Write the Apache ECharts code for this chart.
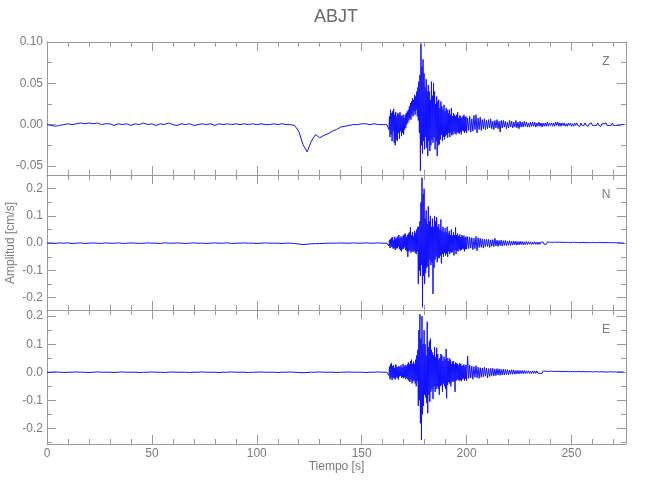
<!DOCTYPE html>
<html>
<head>
<meta charset="utf-8">
<script src="https://cdn.jsdelivr.net/npm/echarts@6/dist/echarts.min.js"></script>
<style>
html,body{margin:0;padding:0;background:#fff;}
#chart{width:650px;height:500px;}
</style>
</head>
<body>
<div id="chart"></div>
<script>
// ---------------- data ----------------
const stationName = 'ABJT';
const componentNames = ['Z', 'N', 'E'];
const xAxisTitle = 'Tiempo [s]';
const yAxisTitle = 'Amplitud [cm/s]';

// sampling of the traces (seconds)
const quietStart = 0,    quietStep = 2;     // 0 .. 160 s
const strongStart = 162, strongStep = 0.25; // 162 .. 199.75 s
const codaStart = 200,   codaStep = 0.5;    // 200 .. 275 s

const xRange = [0, 276];
const xTickStep = 50;

// ---- Z component ----
const zRange = [-0.061, 0.10];
const zTicks = [-0.05, 0.00, 0.05, 0.10];
const zMinorTicks = [-0.05, -0.025, 0, 0.025, 0.05, 0.075, 0.10];
const zQuiet = [
 0.000,-0.001,-0.002,-0.001,0.000,0.001,0.000,0.001,0.002,0.001,
 0.002,0.001,0.002,0.000,0.001,0.001,-0.001,0.001,0.000,0.001,
 -0.001,0.001,0.000,0.002,0.000,0.001,-0.001,0.001,0.000,0.002,
 0.000,-0.001,0.001,0.000,0.001,-0.001,0.000,0.001,0.000,0.001,
 -0.001,0.001,0.000,0.001,0.000,0.001,0.000,0.001,0.000,0.001,
 0.000,0.001,0.000,0.000,0.001,0.000,0.001,0.000,0.000,-0.001,
 -0.008,-0.024,-0.033,-0.020,-0.012,-0.016,-0.013,-0.011,-0.008,-0.006,
 -0.003,-0.002,-0.001,0.000,0.000,0.001,0.001,0.000,0.001,0.000,
 0.000];
const zStrong = [
 0.000,0.001,0.000,-0.002,-0.006,0.010,-0.015,0.018,-0.012,0.014,
 -0.020,0.016,-0.008,0.019,-0.022,0.012,-0.025,0.015,-0.018,0.010,
 -0.020,0.014,-0.010,0.012,-0.017,0.015,-0.008,0.011,-0.014,0.010,
 -0.010,0.012,-0.012,0.008,-0.006,0.012,-0.004,0.014,0.000,0.016,
 0.002,0.018,0.005,0.022,0.008,0.026,0.006,0.028,0.012,0.032,
 0.010,0.030,0.016,0.036,0.012,0.034,0.018,0.040,0.010,0.045,
 0.005,0.052,-0.010,0.060,-0.056,0.098,-0.025,0.070,-0.035,0.079,
 -0.020,0.062,-0.030,0.045,-0.015,0.055,-0.028,0.040,-0.038,0.048,
 -0.020,0.040,-0.032,0.030,-0.025,0.052,-0.018,0.035,-0.022,0.050,
 -0.015,0.040,-0.030,0.025,-0.020,0.034,-0.038,0.028,-0.025,0.030,
 -0.024,0.020,-0.018,0.028,-0.012,0.022,-0.020,0.018,-0.015,0.024,
 -0.018,0.016,-0.014,0.020,-0.012,0.018,-0.016,0.014,-0.010,0.018,
 -0.015,0.012,-0.010,0.020,-0.013,0.010,-0.012,0.014,-0.008,0.012,
 -0.011,0.010,-0.012,0.012,-0.009,0.015,-0.010,0.008,-0.011,0.011,
 -0.009,0.010,-0.012,0.008,-0.007,0.010,-0.008,0.012,-0.010,0.009,
 -0.008,0.010];
const zCoda = [
 -0.010,0.008,-0.007,0.010,
 -0.009,0.007,-0.008,0.011,-0.006,0.012,-0.010,0.008,-0.006,0.009,
 -0.007,0.006,-0.005,0.007,-0.006,0.005,-0.005,0.006,-0.004,0.007,
 -0.005,0.004,-0.006,0.005,-0.004,0.006,-0.005,0.004,-0.009,0.005,
 -0.004,0.005,-0.003,0.004,-0.005,0.003,-0.004,0.005,-0.003,0.004,
 -0.004,0.003,-0.003,0.005,-0.004,0.003,-0.005,0.004,-0.003,0.003,
 -0.003,0.004,-0.002,0.003,-0.003,0.002,-0.003,0.003,-0.002,0.003,
 -0.002,0.003,-0.003,0.002,-0.002,0.003,-0.002,0.002,-0.003,0.002,
 -0.002,0.002,-0.002,0.003,-0.002,0.002,-0.001,0.002,-0.002,0.002,
 -0.002,0.003,-0.001,0.003,-0.002,0.002,-0.002,0.002,-0.001,0.002,
 -0.002,0.001,-0.002,0.002,-0.001,0.002,-0.002,0.001,-0.002,0.002,
 -0.001,0.002,-0.001,0.001,-0.002,0.002,-0.001,0.001,-0.001,0.002,
 -0.001,0.001,-0.002,0.001,-0.001,0.002,-0.001,0.001,-0.001,0.001,
 -0.001,0.002,-0.001,0.001,-0.002,0.001,-0.001,0.001,-0.001,0.002,
 -0.001,0.001,-0.001,0.001,-0.001,0.002,-0.001,0.001,-0.001,0.001,
 -0.001,0.001,-0.001,0.001,0.000,0.001,0.000];

// ---- N component ----
const nRange = [-0.245, 0.25];
const nTicks = [-0.2, -0.1, 0.0, 0.1, 0.2];
const nMinorTicks = [-0.2, -0.15, -0.1, -0.05, 0, 0.05, 0.1, 0.15, 0.2];
const nQuiet = [
 0.000,0.001,-0.001,0.001,0.000,0.001,-0.001,0.000,0.001,-0.001,
 0.000,0.001,0.000,-0.001,0.001,0.000,0.000,0.001,-0.001,0.000,
 0.001,0.000,-0.001,0.000,0.001,0.000,0.000,-0.001,0.001,0.000,
 0.000,0.001,0.000,-0.001,0.000,0.001,0.000,0.000,-0.001,0.000,
 0.001,0.000,0.000,0.001,-0.001,0.000,0.000,0.001,0.000,0.000,
 -0.001,0.000,0.001,0.000,0.000,0.000,-0.001,0.000,0.000,-0.001,
 -0.003,-0.005,-0.004,-0.002,-0.002,-0.001,-0.001,0.000,0.000,0.000,
 0.001,0.000,0.000,0.001,0.000,0.000,0.001,0.000,0.000,0.001,
 0.000];
const nStrong = [
 0.000,0.001,-0.002,0.004,-0.010,0.012,-0.018,0.015,-0.012,0.020,
 -0.015,0.022,-0.020,0.010,-0.018,0.024,-0.025,0.016,-0.020,0.020,
 -0.018,0.025,-0.012,0.030,-0.022,0.018,-0.026,0.025,-0.030,0.020,
 -0.022,0.028,-0.020,0.032,-0.015,0.035,-0.025,0.022,-0.030,0.030,
 -0.050,0.035,-0.030,0.040,-0.025,0.058,-0.035,0.030,-0.028,0.040,
 -0.032,0.025,-0.028,0.045,-0.035,0.038,-0.040,0.050,-0.030,0.060,
 -0.150,0.060,-0.100,0.080,-0.120,0.150,-0.080,0.240,-0.235,0.180,
 -0.120,0.200,-0.150,0.090,-0.110,0.120,-0.090,0.070,-0.085,0.135,
 -0.125,0.080,-0.060,0.100,-0.080,0.060,-0.070,0.090,-0.186,0.060,
 -0.090,0.100,-0.060,0.080,-0.050,0.095,-0.070,0.060,-0.055,0.070,
 -0.055,0.050,-0.045,0.087,-0.074,0.045,-0.040,0.060,-0.050,0.040,
 -0.035,0.055,-0.045,0.040,-0.038,0.060,-0.050,0.035,-0.030,0.045,
 -0.040,0.030,-0.032,0.050,-0.035,0.028,-0.030,0.040,-0.045,0.030,
 -0.025,0.058,-0.040,0.030,-0.028,0.035,-0.030,0.025,-0.022,0.032,
 -0.028,0.022,-0.025,0.030,-0.020,0.025,-0.022,0.028,-0.030,0.020,
 -0.022,0.024];
const nCoda = [
 -0.022,0.024,-0.020,0.022,
 -0.018,0.020,-0.024,0.018,-0.020,0.025,-0.028,0.020,-0.016,0.018,
 -0.015,0.016,-0.018,0.014,-0.013,0.015,-0.012,0.014,-0.016,0.012,
 -0.011,0.013,-0.012,0.018,-0.010,0.011,-0.012,0.010,-0.009,0.011,
 -0.010,0.009,-0.008,0.010,-0.009,0.008,-0.007,0.009,-0.008,0.007,
 -0.007,0.008,-0.006,0.007,-0.007,0.006,-0.006,0.007,-0.005,0.006,
 -0.006,0.005,-0.005,0.006,-0.005,0.005,-0.004,0.005,-0.005,0.004,
 -0.004,0.005,-0.004,0.004,-0.005,0.004,-0.004,0.004,-0.003,0.004,
 -0.004,0.003,-0.004,0.004,-0.003,0.004,-0.003,0.003,-0.004,0.003,
 -0.003,0.004,-0.003,0.003,-0.003,0.004,-0.003,0.003,-0.002,0.003,
 -0.003,0.003,-0.002,0.003,-0.003,0.002,-0.003,0.003,-0.002,0.003,
 -0.002,0.003,-0.002,0.002,-0.003,0.002,-0.002,0.003,-0.002,0.002,
 -0.002,0.002,-0.003,0.002,-0.002,0.002,-0.002,0.003,-0.002,0.002,
 -0.002,0.002,-0.002,0.003,-0.002,0.002,-0.002,0.002,-0.001,0.002,
 -0.002,0.002,-0.001,0.002,-0.002,0.002,-0.001,0.002,-0.002,0.001,
 -0.001,0.002,-0.001,0.001,-0.001,0.001,0.000];

// ---- E component ----
const eRange = [-0.256, 0.222];
const eTicks = [-0.2, -0.1, 0.0, 0.1, 0.2];
const eMinorTicks = [-0.25, -0.2, -0.15, -0.1, -0.05, 0, 0.05, 0.1, 0.15, 0.2];
const eQuiet = [
 0.000,0.000,0.001,0.000,-0.001,0.000,0.000,0.001,0.000,0.000,
 -0.001,0.000,0.001,0.000,0.000,0.000,-0.001,0.000,0.001,0.000,
 0.000,0.000,-0.001,0.000,0.000,0.001,0.000,0.000,-0.001,0.000,
 0.001,0.000,0.000,0.000,-0.001,0.000,0.000,0.001,0.000,0.000,
 0.000,-0.001,0.000,0.000,0.001,0.000,0.000,0.000,-0.001,0.000,
 0.000,0.001,0.000,0.000,0.000,-0.001,0.000,0.000,0.001,0.000,
 -0.001,-0.002,-0.001,0.000,0.000,0.001,0.000,0.000,0.000,-0.001,
 0.000,0.000,0.001,0.000,0.000,0.000,-0.001,0.000,0.000,0.001,
 0.000];
const eStrong = [
 0.000,0.001,-0.002,0.006,-0.012,0.020,-0.025,0.028,-0.018,0.032,
 -0.028,0.022,-0.020,0.025,-0.022,0.015,-0.026,0.028,-0.018,0.020,
 -0.020,0.018,-0.026,0.022,-0.015,0.018,-0.012,0.025,-0.020,0.016,
 -0.018,0.030,-0.022,0.020,-0.018,0.026,-0.025,0.022,-0.020,0.028,
 -0.025,0.035,-0.030,0.028,-0.035,0.040,-0.025,0.045,-0.040,0.030,
 -0.032,0.038,-0.028,0.030,-0.040,0.045,-0.050,0.060,-0.030,0.080,
 -0.120,0.150,-0.100,0.207,-0.182,0.120,-0.242,0.200,-0.150,0.100,
 -0.120,0.150,-0.080,0.100,-0.090,0.060,-0.110,0.180,-0.146,0.090,
 -0.080,0.110,-0.105,0.120,-0.070,0.080,-0.060,0.070,-0.095,0.060,
 -0.050,0.090,-0.070,0.055,-0.060,0.087,-0.050,0.065,-0.060,0.045,
 -0.080,0.050,-0.050,0.065,-0.045,0.060,-0.070,0.040,-0.040,0.055,
 -0.050,0.045,-0.060,0.083,-0.093,0.050,-0.045,0.040,-0.035,0.050,
 -0.040,0.045,-0.050,0.030,-0.035,0.038,-0.030,0.040,-0.035,0.028,
 -0.070,0.035,-0.030,0.032,-0.025,0.030,-0.028,0.025,-0.030,0.032,
 -0.028,0.030,-0.032,0.022,-0.025,0.025,-0.022,0.028,-0.030,0.020,
 -0.024,0.026];
const eCoda = [
 -0.030,0.058,-0.022,0.025,
 -0.020,0.022,-0.025,0.020,-0.018,0.024,-0.020,0.018,-0.022,0.016,
 -0.018,0.015,-0.016,0.018,-0.014,0.015,-0.020,0.013,-0.015,0.014,
 -0.012,0.014,-0.013,0.011,-0.012,0.013,-0.010,0.012,-0.011,0.010,
 -0.010,0.011,-0.009,0.010,-0.008,0.009,-0.009,0.008,-0.007,0.009,
 -0.007,0.008,-0.007,0.006,-0.006,0.007,-0.006,0.006,-0.005,0.006,
 -0.005,0.006,-0.005,0.005,-0.004,0.005,-0.005,0.004,-0.004,0.005,
 -0.004,0.004,-0.004,0.005,-0.003,0.004,-0.004,0.003,-0.004,0.004,
 -0.003,0.004,-0.003,0.003,-0.004,0.003,-0.003,0.004,-0.003,0.003,
 -0.003,0.003,-0.002,0.003,-0.003,0.003,-0.003,0.002,-0.003,0.003,
 -0.002,0.003,-0.002,0.002,-0.003,0.002,-0.002,0.003,-0.002,0.002,
 -0.002,0.002,-0.002,0.003,-0.002,0.002,-0.002,0.002,-0.002,0.002,
 -0.002,0.002,-0.001,0.002,-0.002,0.002,-0.002,0.001,-0.002,0.002,
 -0.001,0.002,-0.002,0.001,-0.001,0.002,-0.001,0.001,-0.002,0.001,
 -0.001,0.001,-0.001,0.002,-0.001,0.001,-0.001,0.001,-0.001,0.001,
 -0.001,0.001,-0.001,0.001,0.000,0.001,0.000];

// ---------------- chart ----------------
const FONT = "'Liberation Sans', Arial, sans-serif";
const AXIS_COLOR = '#9a9a9a';
const TEXT_COLOR = '#7a7a7a';
const TRACE_COLOR = '#1010ff';

function buildTrace(quiet, strong, coda) {
  const pts = [];
  quiet.forEach((v, i) => pts.push([quietStart + i * quietStep, v]));
  strong.forEach((v, i) => pts.push([strongStart + i * strongStep, v]));
  coda.forEach((v, i) => pts.push([codaStart + i * codaStep, v]));
  return pts;
}

const panels = [
  { name: componentNames[0], range: zRange, ticks: zTicks, minor: zMinorTicks, digits: 2, data: buildTrace(zQuiet, zStrong, zCoda) },
  { name: componentNames[1], range: nRange, ticks: nTicks, minor: nMinorTicks, digits: 1, data: buildTrace(nQuiet, nStrong, nCoda) },
  { name: componentNames[2], range: eRange, ticks: eTicks, minor: eMinorTicks, digits: 1, data: buildTrace(eQuiet, eStrong, eCoda) }
];

const gridLeft = 47, gridRight = 24;
const gridTops = [42, 175, 310];
const gridHeights = [133, 135, 134];

const grids = [], xAxes = [], yAxes = [], series = [], graphics = [];

panels.forEach((p, g) => {
  grids.push({ left: gridLeft, right: gridRight, top: gridTops[g], height: gridHeights[g], containLabel: false });
  ['bottom', 'top'].forEach(pos => {
    const isLabelAxis = (g === 2 && pos === 'bottom');
    xAxes.push({
      type: 'value', gridIndex: g, position: pos, min: xRange[0], max: xRange[1], interval: xTickStep,
      axisLine: { show: true, onZero: false, lineStyle: { color: AXIS_COLOR, width: 1 } },
      axisTick: { show: true, inside: true, length: 9, lineStyle: { color: AXIS_COLOR } },
      minorTick: { show: true, splitNumber: 5, length: 5, lineStyle: { color: AXIS_COLOR } },
      axisLabel: { show: isLabelAxis, color: TEXT_COLOR, fontFamily: FONT, fontSize: 12, margin: 4,
                   showMaxLabel: false },
      splitLine: { show: false },
      name: isLabelAxis ? xAxisTitle : '',
      nameLocation: 'middle', nameGap: 17,
      nameTextStyle: { color: TEXT_COLOR, fontFamily: FONT, fontSize: 12 }
    });
  });
  ['left', 'right'].forEach(pos => {
    yAxes.push({
      type: 'value', gridIndex: g, position: pos, min: p.range[0], max: p.range[1],
      axisLine: { show: true, onZero: false, lineStyle: { color: AXIS_COLOR, width: 1 } },
      axisTick: { show: true, inside: true, length: 9, customValues: p.ticks, lineStyle: { color: AXIS_COLOR } },
      axisLabel: { show: pos === 'left', customValues: p.ticks, color: TEXT_COLOR, fontFamily: FONT, fontSize: 12, margin: 4,
                   formatter: v => v.toFixed(p.digits) },
      splitLine: { show: false }
    });
    yAxes.push({
      type: 'value', gridIndex: g, position: pos, min: p.range[0], max: p.range[1],
      axisLine: { show: false, onZero: false },
      axisTick: { show: true, inside: true, length: 5, customValues: p.minor, lineStyle: { color: AXIS_COLOR } },
      axisLabel: { show: false },
      splitLine: { show: false }
    });
  });
  series.push({
    type: 'line', name: p.name, xAxisIndex: g * 2, yAxisIndex: g * 4,
    data: p.data, symbol: 'none', showSymbol: false, sampling: null,
    lineStyle: { color: TRACE_COLOR, width: 1 }, silent: true, clip: true
  });
  graphics.push({
    type: 'text', x: 606, y: gridTops[g] + 20, silent: true,
    style: { text: p.name, fill: TEXT_COLOR, font: '12px ' + FONT, align: 'center', verticalAlign: 'middle' }
  });
});

graphics.push({
  type: 'text', x: 11, y: 243, rotation: Math.PI / 2, silent: true,
  style: { text: yAxisTitle, fill: TEXT_COLOR, font: '12px ' + FONT, align: 'center', verticalAlign: 'middle' }
});

const chart = echarts.init(document.getElementById('chart'), null, { renderer: 'canvas' });
chart.setOption({
  animation: false,
  backgroundColor: '#ffffff',
  title: {
    text: stationName, left: 336, top: 8, textAlign: 'center', padding: 0,
    textStyle: { color: '#6a6a6a', fontFamily: FONT, fontSize: 18, fontWeight: 'normal' }
  },
  grid: grids,
  xAxis: xAxes,
  yAxis: yAxes,
  series: series,
  graphic: graphics
});
</script>
</body>
</html>
